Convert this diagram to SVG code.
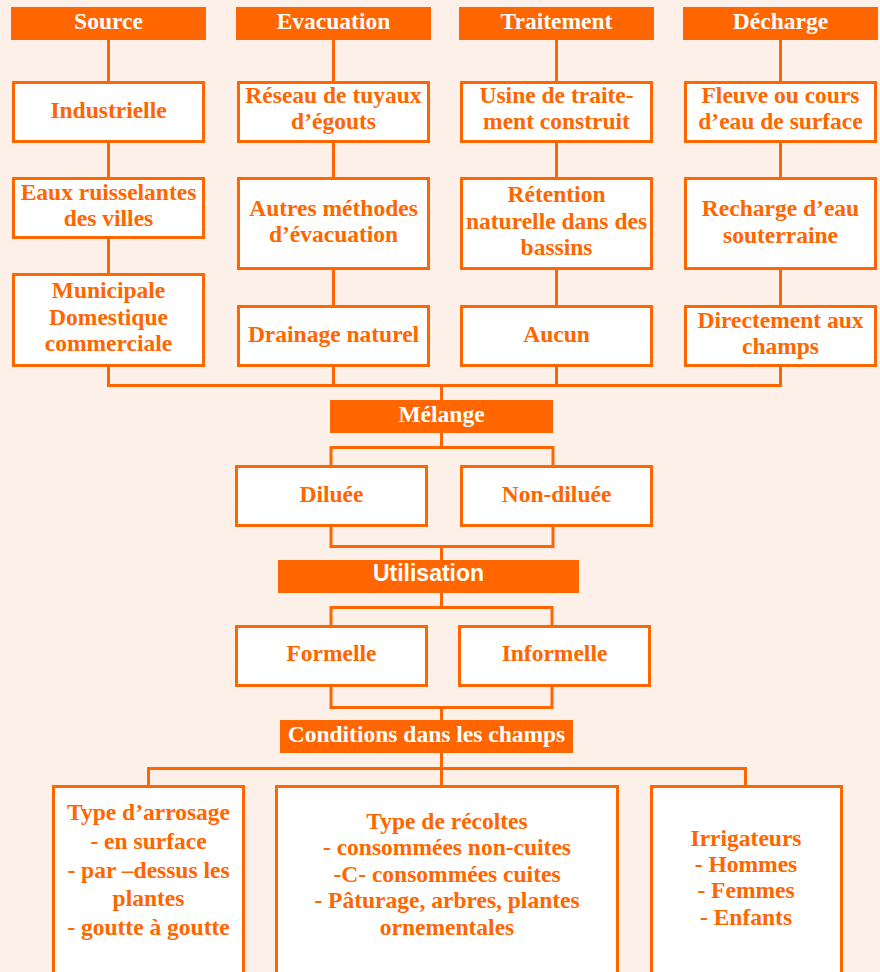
<svg xmlns="http://www.w3.org/2000/svg" width="880" height="972" viewBox="0 0 880 972">
<style>
.bg{fill:#FDF0E9}
.hd{fill:#FF6600}
.bx{fill:#FFFFFF;stroke:#FF6600;stroke-width:3}
.ln{fill:none;stroke:#FF6600;stroke-width:3}
text{font-family:"Liberation Serif","Times New Roman",serif;font-weight:bold;font-size:23.5px;text-anchor:middle}
.ht{fill:#FFFFFF}
.bt{fill:#FF6600}
.sans{font-family:"Liberation Sans",Arial,sans-serif;font-size:23px}
</style>
<rect class="bg" x="0" y="0" width="880" height="972"/>
<g id="connectors">
<path class="ln" d="M108.5 40V82 M108.5 143V177 M108.5 239V273 M108.5 367V385"/>
<path class="ln" d="M333.5 40V82 M333.5 143V177 M333.5 270V305 M333.5 367V385"/>
<path class="ln" d="M556.5 40V82 M556.5 143V177 M556.5 270V305 M556.5 367V385"/>
<path class="ln" d="M780.5 40V82 M780.5 143V177 M780.5 270V305 M780.5 367V385"/>
<path class="ln" d="M107 385.5H782 M441.5 385V400"/>
<path class="ln" d="M441.5 433V447.5 M331 447.5H553 M331 446V465 M553 446V465"/>
<path class="ln" d="M331 527V546.5H553V527 M441.5 546V560"/>
<path class="ln" d="M441.5 593V607.5 M331 607.5H552 M331 606V625 M552 606V625"/>
<path class="ln" d="M331 687V707.5H552V687 M441.5 707V720"/>
<path class="ln" d="M441.5 753V768.5 M148.5 768.5H745.5 M148.5 767V785 M441.5 767V785 M745.5 767V785"/>
</g>
<g id="h-source"><rect class="hd" x="11" y="7" width="195" height="33"/><text class="ht" x="108.5" y="29">Source</text></g>
<g id="h-evacuation"><rect class="hd" x="236" y="7" width="195" height="33"/><text class="ht" x="333.5" y="29">Evacuation</text></g>
<g id="h-traitement"><rect class="hd" x="459" y="7" width="195" height="33"/><text class="ht" x="556.5" y="29">Traitement</text></g>
<g id="h-decharge"><rect class="hd" x="683" y="7" width="195" height="33"/><text class="ht" x="780.5" y="29">Décharge</text></g>

<g id="n-industrielle"><rect class="bx" x="13.5" y="82.5" width="190" height="59"/><text class="bt" x="108.5" y="118">Industrielle</text></g>
<g id="n-eaux"><rect class="bx" x="13.5" y="178.5" width="190" height="59"/><text class="bt" x="108.5" y="200">Eaux ruisselantes</text><text class="bt" x="108.5" y="226">des villes</text></g>
<g id="n-municipale"><rect class="bx" x="13.5" y="274.5" width="190" height="91"/><text class="bt" x="108.5" y="298">Municipale</text><text class="bt" x="108.5" y="325">Domestique</text><text class="bt" x="108.5" y="351">commerciale</text></g>

<g id="n-reseau"><rect class="bx" x="238.5" y="82.5" width="190" height="59"/><text class="bt" x="333.5" y="103">Réseau de tuyaux</text><text class="bt" x="333.5" y="129">d’égouts</text></g>
<g id="n-autres"><rect class="bx" x="238.5" y="178.5" width="190" height="90"/><text class="bt" x="333.5" y="216">Autres méthodes</text><text class="bt" x="333.5" y="242">d’évacuation</text></g>
<g id="n-drainage"><rect class="bx" x="238.5" y="306.5" width="190" height="59"/><text class="bt" x="333.5" y="342">Drainage naturel</text></g>

<g id="n-usine"><rect class="bx" x="461.5" y="82.5" width="190" height="59"/><text class="bt" x="556.5" y="103">Usine de traite-</text><text class="bt" x="556.5" y="129">ment construit</text></g>
<g id="n-retention"><rect class="bx" x="461.5" y="178.5" width="190" height="90"/><text class="bt" x="556.5" y="202">Rétention</text><text class="bt" x="556.5" y="229">naturelle dans des</text><text class="bt" x="556.5" y="255">bassins</text></g>
<g id="n-aucun"><rect class="bx" x="461.5" y="306.5" width="190" height="59"/><text class="bt" x="556.5" y="342">Aucun</text></g>

<g id="n-fleuve"><rect class="bx" x="685.5" y="82.5" width="190" height="59"/><text class="bt" x="780.5" y="103">Fleuve ou cours</text><text class="bt" x="780.5" y="129">d’eau de surface</text></g>
<g id="n-recharge"><rect class="bx" x="685.5" y="178.5" width="190" height="90"/><text class="bt" x="780.5" y="216">Recharge d’eau</text><text class="bt" x="780.5" y="243">souterraine</text></g>
<g id="n-directement"><rect class="bx" x="685.5" y="306.5" width="190" height="59"/><text class="bt" x="780.5" y="328">Directement aux</text><text class="bt" x="780.5" y="354">champs</text></g>

<g id="h-melange"><rect class="hd" x="330" y="400" width="223" height="33"/><text class="ht" x="441.5" y="422">Mélange</text></g>
<g id="n-diluee"><rect class="bx" x="236.5" y="466.5" width="190" height="59"/><text class="bt" x="331.5" y="502">Diluée</text></g>
<g id="n-nondiluee"><rect class="bx" x="461.5" y="466.5" width="190" height="59"/><text class="bt" x="556.5" y="502">Non-diluée</text></g>

<g id="h-utilisation"><rect class="hd" x="278" y="560" width="301" height="33"/><text class="ht sans" x="428.5" y="581">Utilisation</text></g>
<g id="n-formelle"><rect class="bx" x="236.5" y="626.5" width="190" height="59"/><text class="bt" x="331.5" y="661">Formelle</text></g>
<g id="n-informelle"><rect class="bx" x="459.5" y="626.5" width="190" height="59"/><text class="bt" x="554.5" y="661">Informelle</text></g>

<g id="h-conditions"><rect class="hd" x="280" y="720" width="293" height="33"/><text class="ht" x="426.5" y="742">Conditions dans les champs</text></g>

<g id="n-arrosage"><rect class="bx" x="53.5" y="786.5" width="190" height="200"/><text class="bt" x="148.5" y="820">Type d’arrosage</text><text class="bt" x="148.5" y="849">- en surface</text><text class="bt" x="148.5" y="878">- par –dessus les</text><text class="bt" x="148.5" y="906">plantes</text><text class="bt" x="148.5" y="935">- goutte à goutte</text></g>
<g id="n-recoltes"><rect class="bx" x="276.5" y="786.5" width="341" height="200"/><text class="bt" x="447" y="829">Type de récoltes</text><text class="bt" x="447" y="855">- consommées non-cuites</text><text class="bt" x="447" y="882">-C- consommées cuites</text><text class="bt" x="447" y="908">- Pâturage, arbres, plantes</text><text class="bt" x="447" y="935">ornementales</text></g>
<g id="n-irrigateurs"><rect class="bx" x="651.5" y="786.5" width="190" height="200"/><text class="bt" x="746" y="846">Irrigateurs</text><text class="bt" x="746" y="872">- Hommes</text><text class="bt" x="746" y="898">- Femmes</text><text class="bt" x="746" y="925">- Enfants</text></g>
</svg>
